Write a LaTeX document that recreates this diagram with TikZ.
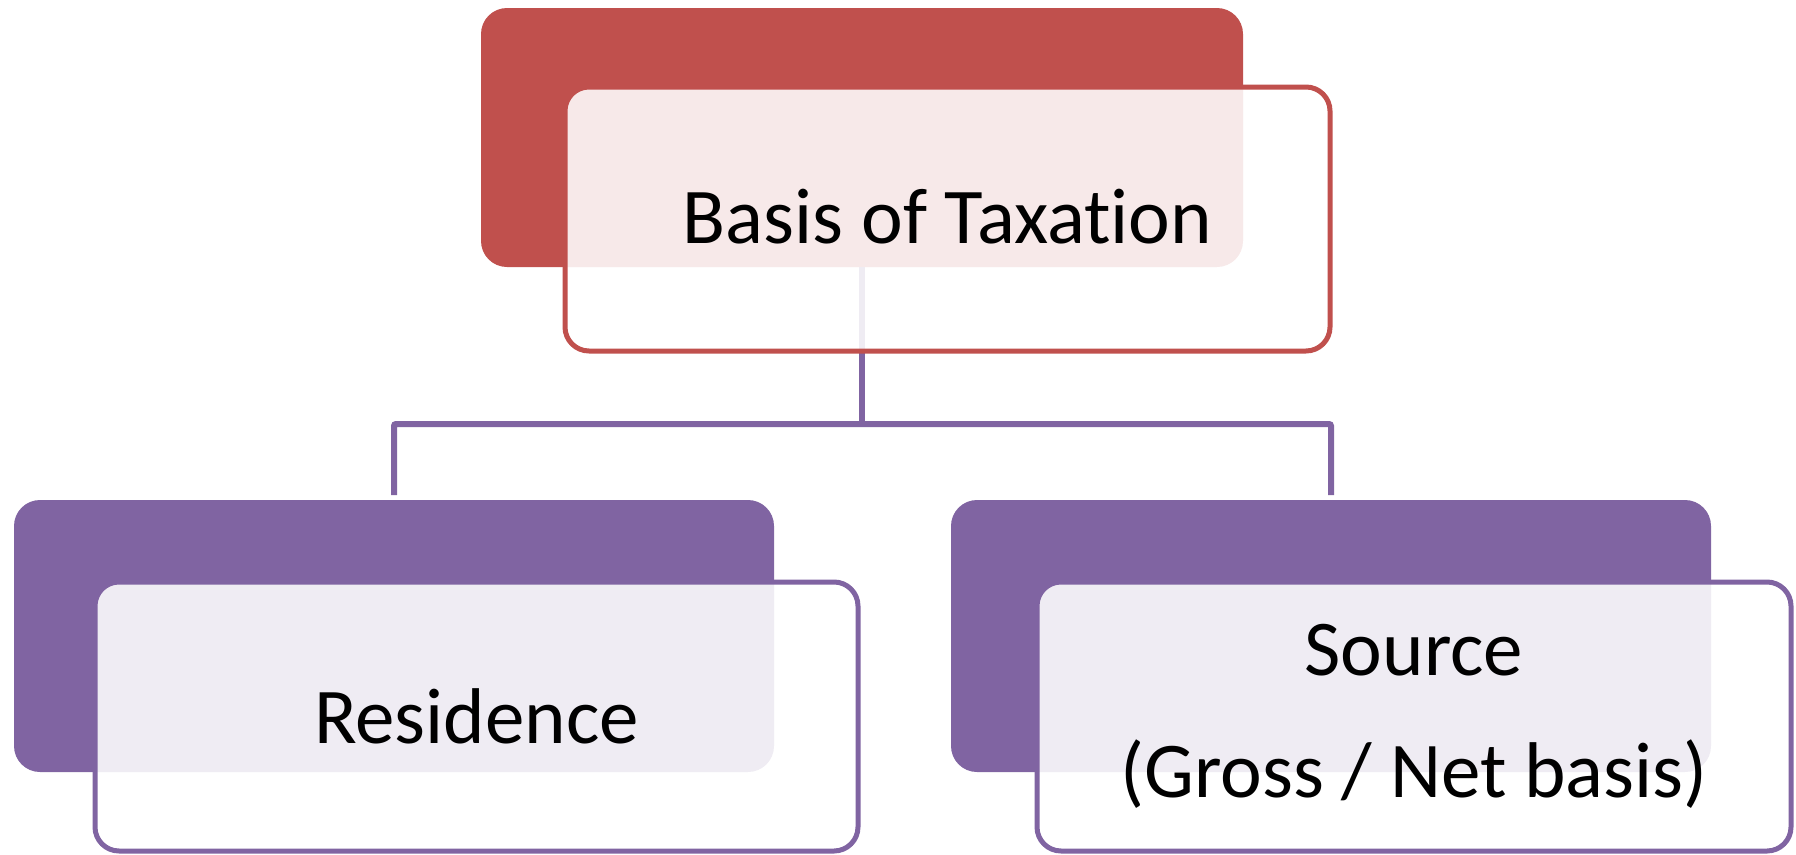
\documentclass[tikz,border=0pt]{standalone}
\usepackage{fontspec}
\setmainfont{Carlito}[Ligatures=NoCommon]
\definecolor{accred}{HTML}{C0504D}
\definecolor{accpurple}{HTML}{8064A2}
\tikzset{
  backbox/.style={rounded corners=26pt, inner sep=0pt, outer sep=0pt, anchor=north west, draw=none},
  frontbox/.style={rounded corners=24pt, inner sep=0pt, outer sep=0pt, anchor=north west,
    line width=5pt, fill=white, fill opacity=0.88, text opacity=1, align=center,
    font=\fontsize{79}{122}\selectfont},
  link/.style={draw=accpurple, line width=6pt},
}
\begin{document}
\begin{tikzpicture}[x=1pt,y=-1pt]
\useasboundingbox (0,0) rectangle (1796,854);
% back boxes
\node[backbox, fill=accred, minimum width=762pt, minimum height=259pt] (topback) at (481,8) {};
\node[backbox, fill=accpurple, minimum width=760pt, minimum height=272pt] (leftback) at (14,500) {};
\node[backbox, fill=accpurple, minimum width=760pt, minimum height=272pt] (rightback) at (951,500) {};
% connectors
\coordinate (split) at (862,424);
\coordinate (lend) at (394,495);
\coordinate (rend) at (1331,495);
\draw[link] (topback.south) -- (split);
\draw[link, rounded corners=2pt] (lend) |- (split) -| (rend);
% front boxes
\node[frontbox, draw=accred, minimum width=765pt, minimum height=264pt, text depth=6pt] (top) at (565,87) {Basis of Taxation};
\node[frontbox, draw=accpurple, minimum width=763pt, minimum height=269pt] (left) at (95,582) {Residence};
\node[frontbox, draw=accpurple, minimum width=754pt, minimum height=269pt] (right) at (1037,582) {Source\\(Gross / Net basis)};
\end{tikzpicture}
\end{document}
